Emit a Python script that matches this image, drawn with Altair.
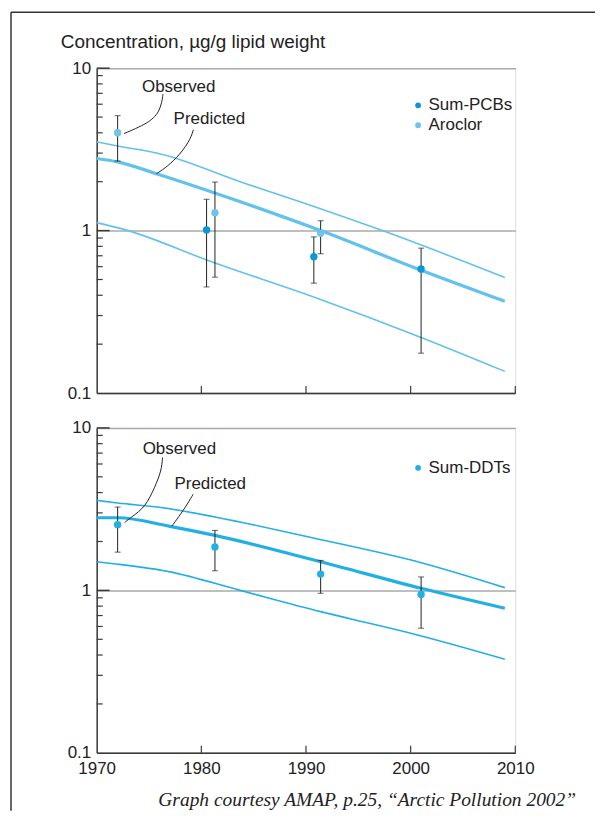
import altair as alt
import pandas as pd

# ---------------- data ----------------
# Top panel: observed points with error ranges
pcb_years = [1980.5, 1990.75, 2001.0]
pcb_vals = [1.01, 0.69, 0.58]
pcb_low = [0.45, 0.475, 0.176]
pcb_high = [1.56, 0.915, 0.78]

aro_years = [1972.0, 1981.3, 1991.4]
aro_vals = [4.0, 1.29, 0.963]
aro_low = [2.68, 0.517, 0.72]
aro_high = [5.1, 1.99, 1.15]

# Bottom panel: observed points with error ranges
ddt_years = [1972.0, 1981.3, 1991.4, 2001.0]
ddt_vals = [2.54, 1.85, 1.26, 0.945]
ddt_low = [1.72, 1.32, 0.96, 0.585]
ddt_high = [3.26, 2.34, 1.53, 1.21]

# Predicted curves (top panel)
top_mid_years = [1970, 1972, 1975.7, 1983.8, 1991.4, 2001, 2009]
top_mid_vals = [2.78, 2.65, 2.24, 1.5, 1.0, 0.57, 0.367]
top_up_years = [1970, 1972, 1976.3, 1983.7, 1989.5, 1997.3, 2009]
top_up_vals = [3.52, 3.32, 2.94, 2.0, 1.5, 1.0, 0.515]
top_lo_years = [1970, 1973, 1980.5, 1991, 2001, 2009]
top_lo_vals = [1.12, 1.0, 0.66, 0.385, 0.22, 0.136]

# Predicted curves (bottom panel)
bot_mid_years = [1970, 1972, 1977, 1981.3, 1991.4, 2001, 2009]
bot_mid_vals = [2.8, 2.8, 2.48, 2.18, 1.5, 1.03, 0.776]
bot_up_years = [1970, 1972, 1976.3, 1981.3, 1991, 2001, 2009]
bot_up_vals = [3.58, 3.45, 3.23, 2.83, 2.08, 1.48, 1.04]
bot_lo_years = [1970, 1972, 1977, 1983.7, 1991.4, 1994.6, 2000, 2009]
bot_lo_vals = [1.5, 1.45, 1.3, 1.0, 0.74, 0.66, 0.545, 0.377]

# Annotation leader curves (year, value)
top_obs_lead_years = [1976.33, 1976.24, 1975.93, 1975.43, 1974.83, 1973.71, 1972.62]
top_obs_lead_vals = [6.93, 6.19, 5.37, 4.94, 4.60, 4.24, 3.96]
top_pred_lead_years = [1979.24, 1978.86, 1977.62, 1976.48, 1975.71]
top_pred_lead_vals = [4.17, 3.52, 2.78, 2.41, 2.24]
bot_obs_lead_years = [1976.29, 1976.19, 1975.56, 1974.65, 1973.33, 1972.67]
bot_obs_lead_vals = [6.57, 5.47, 4.32, 3.26, 2.83, 2.62]
bot_pred_lead_years = [1979.21, 1978.50, 1977.59, 1977.18]
bot_pred_lead_vals = [3.90, 3.26, 2.70, 2.48]

# Annotation labels
ann_texts = ["Observed", "Predicted"]
top_ann_years = [1977.84, 1980.77]
top_ann_vals = [7.64, 4.83]
bot_ann_years = [1977.9, 1980.85]
bot_ann_vals = [7.38, 4.5]

# Axis ticks
x_tick_years = [1970, 1980, 1990, 2000, 2010]
x_inner_ticks = [1980, 1990, 2000, 2010]
y_label_vals = [0.1, 1, 10]
y_major_ticks = [1, 10]
y_minor_ticks = [0.2, 0.3, 0.4, 0.5, 0.6, 0.7, 0.8, 0.9, 2, 3, 4, 5, 6, 7, 8, 9]

title_text = "Concentration, µg/g lipid weight"
caption_text = "Graph courtesy AMAP, p.25, \u201cArctic Pollution 2002\u201d"

# ---------------- styling ----------------
FONT = "Liberation Sans"
FS = 17
INK = "#222222"
AXC = "#3a3a3a"
GRID = "#aaaaaa"
C_PCB = "#0a97d7"
C_ARO = "#6cc5ec"
C_DDT = "#22afe5"
C_TOPLINE = "#62c2ec"
C_BOTLINE = "#22afe5"
W, H = 420, 326

xscale = alt.Scale(domain=[1970, 2010], nice=False, zero=False)
yscale = alt.Scale(type="log", domain=[0.1, 10], nice=False)


def xenc(field, labels):
    return alt.X(field, type="quantitative", scale=xscale,
                 axis=alt.Axis(values=x_tick_years, format="d", labels=labels,
                               labelFlush=False, ticks=False, tickSize=0,
                               labelPadding=8, grid=False, title=None,
                               domainColor=AXC, domainWidth=1.5,
                               labelFontSize=FS, labelFont=FONT, labelColor=INK))


def yenc(field):
    return alt.Y(field, type="quantitative", scale=yscale,
                 axis=alt.Axis(values=y_label_vals, format="~g", ticks=False,
                               tickSize=0, labelPadding=6, grid=True,
                               gridColor=GRID, gridWidth=1.5, title=None,
                               domainColor=AXC, domainWidth=1.5,
                               labelOverlap=False,
                               labelFontSize=FS, labelFont=FONT, labelColor=INK))


def obs_df(series, years, vals, low, high):
    return pd.DataFrame({"series": series, "year": years, "val": vals,
                         "low": low, "high": high})


def lines_df(groups):
    rows = []
    for name, ys, vs in groups:
        for y, v in zip(ys, vs):
            rows.append({"curve": name, "year": y, "val": v})
    return pd.DataFrame(rows)


def lead_df(groups):
    rows = []
    for name, ys, vs in groups:
        for i, (y, v) in enumerate(zip(ys, vs)):
            rows.append({"lead": name, "i": i, "year": y, "val": v})
    return pd.DataFrame(rows)


def panel(obs, domain, rng, thin, thick, line_color, leads, ann_years, ann_vals,
          legend_y, show_x_labels, extras):
    base_x = lambda f: xenc(f, show_x_labels)
    grid_base = alt.Chart(pd.DataFrame({"v": y_label_vals})).mark_point(opacity=0).encode(
        x=alt.value(0), y=yenc("v"))
    minor = alt.Chart(pd.DataFrame({"v": y_minor_ticks})).mark_rule(
        color=AXC, strokeWidth=1.2).encode(y=yenc("v"), x=alt.value(0), x2=alt.value(6))
    major = alt.Chart(pd.DataFrame({"v": y_major_ticks})).mark_rule(
        color=AXC, strokeWidth=1.5).encode(y=yenc("v"), x=alt.value(0), x2=alt.value(13))
    xt = alt.Chart(pd.DataFrame({"yr": x_inner_ticks})).mark_rule(
        color=AXC, strokeWidth=1.2).encode(x=base_x("yr"), y=alt.value(H), y2=alt.value(H - 7))
    thin_l = alt.Chart(thin).mark_line(color=line_color, strokeWidth=1.6,
                                       interpolate="monotone").encode(
        x=base_x("year"), y=yenc("val"), detail="curve:N")
    thick_l = alt.Chart(thick).mark_line(color=line_color, strokeWidth=3.2,
                                         interpolate="monotone").encode(
        x=base_x("year"), y=yenc("val"), detail="curve:N")
    err = alt.Chart(obs).mark_rule(color=INK, strokeWidth=1).encode(
        x=base_x("year"), y=yenc("low"), y2="high")
    cap_lo = alt.Chart(obs).mark_tick(color=INK, orient="horizontal", size=6,
                                      thickness=1).encode(x=base_x("year"), y=yenc("low"))
    cap_hi = alt.Chart(obs).mark_tick(color=INK, orient="horizontal", size=6,
                                      thickness=1).encode(x=base_x("year"), y=yenc("high"))
    pts = alt.Chart(obs).mark_point(filled=True, size=55, opacity=1).encode(
        x=base_x("year"), y=yenc("val"),
        color=alt.Color("series:N", scale=alt.Scale(domain=domain, range=rng),
                        legend=alt.Legend(orient="none", legendX=314, legendY=legend_y,
                                          title=None, symbolType="circle",
                                          symbolSize=34, symbolStrokeWidth=0,
                                          labelFontSize=FS, labelFont=FONT,
                                          labelColor=INK, rowPadding=2,
                                          padding=0, labelOffset=2)))
    lead = alt.Chart(leads).mark_line(color=INK, strokeWidth=1,
                                      interpolate="basis").encode(
        x=base_x("year"), y=yenc("val"), detail="lead:N", order="i:Q")
    ann = alt.Chart(pd.DataFrame({"t": ann_texts, "year": ann_years, "val": ann_vals})).mark_text(
        font=FONT, fontSize=FS, color=INK, align="center", baseline="middle").encode(
        x=base_x("year"), y=yenc("val"), text="t:N")
    layers = [grid_base, thin_l, thick_l, err, cap_lo, cap_hi, pts, lead, ann,
              minor, major, xt] + extras
    return alt.layer(*layers).properties(width=W, height=H)


one = pd.DataFrame({"a": [0]})
frame_top = alt.Chart(one).mark_rule(color="#333333", strokeWidth=1.5).encode(
    x=alt.value(-86), x2=alt.value(500), y=alt.value(-56))
frame_left = alt.Chart(one).mark_rule(color="#333333", strokeWidth=1.5).encode(
    x=alt.value(-86), y=alt.value(-417), y2=alt.value(384))
title_mark = alt.Chart(pd.DataFrame({"t": [title_text]})).mark_text(
    font=FONT, fontSize=19, color=INK, align="left", baseline="alphabetic").encode(
    x=alt.value(-36), y=alt.value(-20), text="t:N")
caption_mark = alt.Chart(pd.DataFrame({"t": [caption_text]})).mark_text(
    font="Liberation Serif", fontStyle="italic", fontSize=19.5, color=INK,
    align="right", baseline="alphabetic").encode(
    x=alt.value(481), y=alt.value(379), text="t:N")

top_obs = pd.concat([obs_df("Sum-PCBs", pcb_years, pcb_vals, pcb_low, pcb_high),
                     obs_df("Aroclor", aro_years, aro_vals, aro_low, aro_high)])
bot_obs = obs_df("Sum-DDTs", ddt_years, ddt_vals, ddt_low, ddt_high)

top = panel(top_obs, ["Sum-PCBs", "Aroclor"], [C_PCB, C_ARO],
            lines_df([("up", top_up_years, top_up_vals), ("lo", top_lo_years, top_lo_vals)]),
            lines_df([("mid", top_mid_years, top_mid_vals)]), C_TOPLINE,
            lead_df([("obs", top_obs_lead_years, top_obs_lead_vals),
                     ("pred", top_pred_lead_years, top_pred_lead_vals)]),
            top_ann_years, top_ann_vals, 28.8, False, [frame_top, title_mark])

bottom = panel(bot_obs, ["Sum-DDTs"], [C_DDT],
               lines_df([("up", bot_up_years, bot_up_vals), ("lo", bot_lo_years, bot_lo_vals)]),
               lines_df([("mid", bot_mid_years, bot_mid_vals)]), C_BOTLINE,
               lead_df([("obs", bot_obs_lead_years, bot_obs_lead_vals),
                        ("pred", bot_pred_lead_years, bot_pred_lead_vals)]),
               bot_ann_years, bot_ann_vals, 31.5, True, [frame_left, caption_mark])

chart = alt.vconcat(top, bottom, spacing=35, bounds="flush").resolve_scale(
    color="independent").properties(
    padding={"left": 1, "top": 1, "right": 0, "bottom": 0}
).configure_view(stroke=None).configure(background="white")

chart.save("out.html", embed_options={"renderer": "svg", "actions": False})
